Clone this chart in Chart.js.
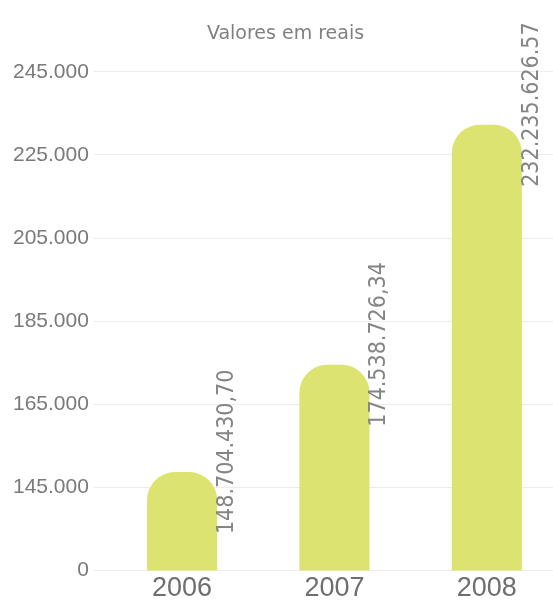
<!DOCTYPE html>
<html>
<head>
<meta charset="utf-8">
<script src="https://cdn.jsdelivr.net/npm/chart.js@4.4.1/dist/chart.umd.min.js"></script>
<style>
  html, body { margin: 0; padding: 0; background: #fff; overflow: hidden; }
  #wrap { width: 563px; height: 607px; }
</style>
</head>
<body>
<div id="wrap"><canvas id="grafico"></canvas></div>
<script>
// dados do gráfico
const anos = ['2006', '2007', '2008'];
const valores = [148704430.70, 174538726.34, 232235626.57];
const rotulosValores = ['148.704.430,70', '174.538.726,34', '232.235.626.57'];
// o eixo é quebrado: a primeira marca fica rotulada como "0"
const marcasEixo = [125000000, 145000000, 165000000, 185000000, 205000000, 225000000, 245000000];
const rotulosEixo = ['0', '145.000', '165.000', '185.000', '205.000', '225.000', '245.000'];

const cinza = '#7a7a7a';

const rotulosBarras = {
  id: 'rotulosBarras',
  afterDatasetsDraw(chart) {
    const ctx = chart.ctx;
    const meta = chart.getDatasetMeta(0);
    ctx.save();
    ctx.fillStyle = '#858585';
    ctx.font = '23px "DejaVu Sans Condensed", "Liberation Sans Narrow", "DejaVu Sans", sans-serif';
    ctx.textAlign = 'left';
    ctx.textBaseline = 'middle';
    meta.data.forEach((bar, i) => {
      ctx.save();
      ctx.translate(bar.x + bar.width / 2 + 10, bar.y + 62);
      ctx.rotate(-Math.PI / 2);
      ctx.fillText(rotulosValores[i], 0, 0);
      ctx.restore();
    });
    ctx.restore();
  }
};

new Chart(document.getElementById('grafico'), {
  type: 'bar',
  data: {
    labels: anos,
    datasets: [{
      label: 'Valores em reais',
      data: valores,
      backgroundColor: '#dce370',
      barPercentage: 0.46,
      categoryPercentage: 1,
      borderSkipped: 'start',
      borderRadius: { topLeft: 28, topRight: 28, bottomLeft: 0, bottomRight: 0 }
    }]
  },
  options: {
    responsive: true,
    maintainAspectRatio: false,
    animation: false,
    layout: { padding: { left: 8, right: 0, top: 0, bottom: 0 } },
    plugins: {
      legend: { display: false },
      tooltip: { enabled: false },
      title: {
        display: true,
        text: 'Valores em reais',
        color: '#808080',
        font: { family: '"DejaVu Sans", sans-serif', size: 19, weight: 'normal' },
        padding: { top: 23, bottom: 26 }
      }
    },
    scales: {
      x: {
        grid: { display: false, drawTicks: false },
        border: { display: false },
        ticks: {
          color: '#6e6e6e',
          padding: 2,
          font: { family: '"Liberation Sans", Arial, sans-serif', size: 27 }
        }
      },
      y: {
        min: marcasEixo[0],
        max: marcasEixo[marcasEixo.length - 1],
        afterBuildTicks(scale) {
          scale.ticks = marcasEixo.map(v => ({ value: v }));
        },
        grid: { color: '#ececec', tickLength: 12, lineWidth: 1 },
        border: { display: false },
        ticks: {
          color: cinza,
          padding: 5,
          font: { family: '"Liberation Sans", Arial, sans-serif', size: 21 },
          callback: (valor, i) => rotulosEixo[i]
        }
      }
    }
  },
  plugins: [rotulosBarras]
});
</script>
</body>
</html>
